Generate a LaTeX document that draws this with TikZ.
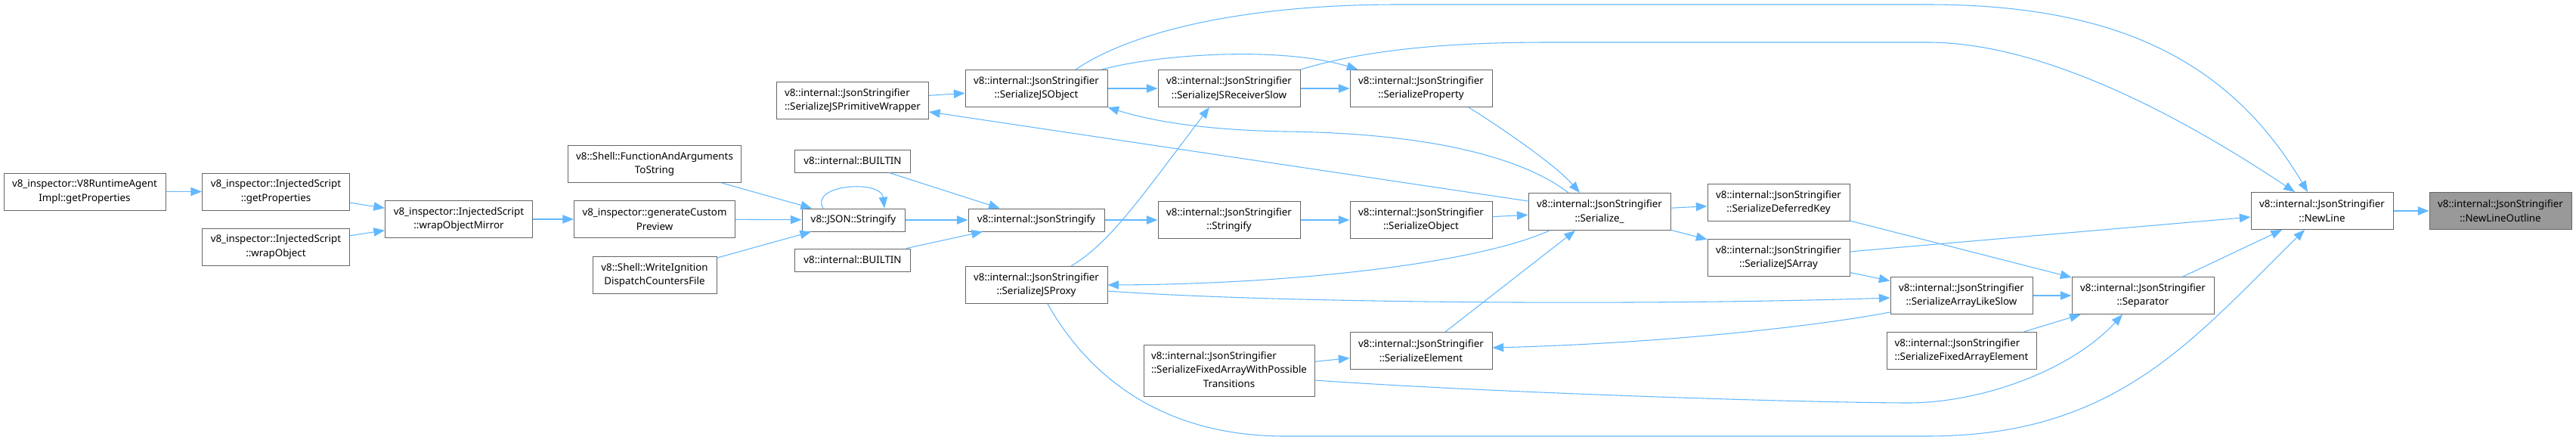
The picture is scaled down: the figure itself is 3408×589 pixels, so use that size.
\documentclass[tikz,border=0pt]{standalone}
\usepackage{fontspec}
\setmainfont{Noto Sans}
\usepackage{xcolor}
\usepackage{tikz}
\usetikzlibrary{arrows.meta,calc}

\definecolor{edgeblue}{HTML}{63B8FF}
\definecolor{boxline}{HTML}{666666}
\definecolor{curfill}{HTML}{999999}

\begin{document}
\begin{tikzpicture}[x=0.75pt, y=-0.75pt,
  fnbox/.style={draw=boxline, fill=white, line width=0.75pt, align=center,
    font=\fontsize{10}{14}\selectfont, inner xsep=2pt, inner ysep=0pt,
    minimum width=141pt, minimum height=36.75pt},
  onebox/.style={fnbox, minimum height=22.5pt},
  threebox/.style={fnbox, minimum height=51pt},
  curbox/.style={fnbox, fill=curfill},
  call/.style={draw=edgeblue, line width=0.8pt, -{Triangle[length=11pt,width=8.5pt]}}
]
\useasboundingbox (0,0) rectangle (3408,589);

% inspector side
\node[fnbox, minimum width=160.5pt]  (rtagent)      at (112,253.5) {v8\_inspector::V8RuntimeAgent\\Impl::getProperties};
\node[fnbox, minimum width=146.25pt] (isgetprops)   at (365,253.5) {v8\_inspector::InjectedScript\\::getProperties};
\node[fnbox, minimum width=146.25pt] (iswrap)       at (365,326.5) {v8\_inspector::InjectedScript\\::wrapObject};
\node[fnbox, minimum width=146.25pt] (iswrapmirror) at (607,290)   {v8\_inspector::InjectedScript\\::wrapObjectMirror};
\node[fnbox, minimum width=171.75pt] (funcargs)     at (866,217)   {v8::Shell::FunctionAndArguments\\ToString};
\node[fnbox, minimum width=159.75pt] (custompreview) at (866,290)  {v8\_inspector::generateCustom\\Preview};
\node[fnbox, minimum width=123pt]    (writeign)     at (866,364)   {v8::Shell::WriteIgnition\\DispatchCountersFile};

% JSON entry points
\node[onebox, minimum width=102pt]    (jsonstr)       at (1129,291) {v8::JSON::Stringify};
\node[onebox, minimum width=114.75pt] (builtina)      at (1128,213) {v8::internal::BUILTIN};
\node[onebox, minimum width=114.75pt] (builtinb)      at (1128,344) {v8::internal::BUILTIN};
\node[fnbox, minimum width=150.75pt, align=left] (primwrap) at (1128,133) {v8::internal::JsonStringifier\\::SerializeJSPrimitiveWrapper};
\node[fnbox]                          (jsobject)      at (1371,117) {v8::internal::JsonStringifier\\::SerializeJSObject};
\node[onebox, minimum width=135pt]    (jsonstringify) at (1371,291) {v8::internal::JsonStringify};
\node[fnbox]                          (jsproxy)       at (1371,377) {v8::internal::JsonStringifier\\::SerializeJSProxy};

% JsonStringifier members
\node[fnbox]                          (receiverslow) at (1626,117) {v8::internal::JsonStringifier\\::SerializeJSReceiverSlow};
\node[fnbox]                          (stringify)    at (1626,291) {v8::internal::JsonStringifier\\::Stringify};
\node[threebox, minimum width=169.5pt] (fixedtrans)  at (1626,490)
  {\begin{tabular}{@{}l@{}}v8::internal::JsonStringifier\\::SerializeFixedArrayWithPossible\\\multicolumn{1}{@{}c@{}}{Transitions}\end{tabular}};
\node[fnbox]                          (property)     at (1880,117) {v8::internal::JsonStringifier\\::SerializeProperty};
\node[fnbox]                          (object)       at (1880,291) {v8::internal::JsonStringifier\\::SerializeObject};
\node[fnbox]                          (element)      at (1880,464) {v8::internal::JsonStringifier\\::SerializeElement};
\node[fnbox]                          (serialize)    at (2116,280) {v8::internal::JsonStringifier\\::Serialize\_};
\node[fnbox]                          (deferred)     at (2353,268) {v8::internal::JsonStringifier\\::SerializeDeferredKey};
\node[fnbox]                          (jsarray)      at (2353,341) {v8::internal::JsonStringifier\\::SerializeJSArray};
\node[fnbox]                          (arraylike)    at (2595,391) {v8::internal::JsonStringifier\\::SerializeArrayLikeSlow};
\node[fnbox, minimum width=148.5pt, align=left] (fixedelem) at (2595,464) {v8::internal::JsonStringifier\\::SerializeFixedArrayElement};
\node[fnbox]                          (separator)    at (2835,391) {v8::internal::JsonStringifier\\::Separator};
\node[fnbox]                          (newline)      at (3072,279) {v8::internal::JsonStringifier\\::NewLine};
\node[curbox]                         (outline)      at (3308,279) {v8::internal::JsonStringifier\\::NewLineOutline};

% calls
\draw[call] (rtagent) -- (isgetprops);
\draw[call] (isgetprops) -- (iswrapmirror);
\draw[call] (iswrap) -- (iswrapmirror);
\draw[call] (iswrapmirror) -- (custompreview);
\draw[call] (custompreview) -- (jsonstr);
\draw[call] (funcargs) -- (jsonstr);
\draw[call] (writeign) -- (jsonstr);
\draw[call] ($(jsonstr.north)+(-40,0)$) .. controls +(-18,-32) and +(-4,-38) .. ($(jsonstr.north)+(41,0)$);
\draw[call] (jsonstr) -- (jsonstringify);
\draw[call] (builtina) -- (jsonstringify);
\draw[call] (builtinb) -- (jsonstringify);
\draw[call] (jsonstringify) -- (stringify);
\draw[call] (stringify) -- (object);
\draw[call] (object) -- (serialize);
\draw[call] (serialize) -- (deferred);
\draw[call] (serialize) -- (jsarray);
\draw[call] ($(serialize.north)+(-41,0)$) .. controls (2010,205) and (1880,176) .. (1700,174)
  .. controls (1600,172) and (1530,162) .. (jsobject.south east);
\draw[call] (serialize) -- (primwrap);
\draw[call] ($(serialize.south)+(-66,0)$) .. controls (1950,350) and (1700,376) .. (jsproxy.east);
\draw[call] (primwrap) -- (jsobject);
\draw[call] (jsobject) -- (receiverslow);
\draw[call] (receiverslow) -- (property);
\draw[call] ($(jsobject.north east)+(-8,0)$) .. controls (1540,70) and (1700,62) .. ($(property.north west)+(11,0)$);
\draw[call] ($(property.south)+(63,0)$) .. controls (1975,162) and (2055,215) .. ($(serialize.north)+(-26,0)$);
\draw[call] ($(jsproxy.north)+(46,0)$) .. controls (1470,320) and (1510,260) .. ($(receiverslow.south)+(-26,0)$);
\draw[call] (element) -- (serialize);
\draw[call] (fixedtrans) -- (element);
\draw[call] (jsarray) -- (arraylike);
\draw[call] (jsarray) -- (newline);
\draw[call] (deferred) -- (separator);
\draw[call] (arraylike) -- (separator);
\draw[call] (fixedelem) -- (separator);
\draw[call] (separator) -- (newline);
\draw[call] ($(arraylike.west)+(0,22)$) .. controls (2400,432) and (2200,454) .. ($(element.east)+(0,-4)$);
\draw[call] ($(jsproxy.east)+(0,8)$) .. controls (1700,402) and (2200,404) .. ($(arraylike.west)+(0,3)$);
\draw[call] ($(fixedtrans.east)+(0,13)$) .. controls (1950,518) and (2350,532) .. (2520,533)
  .. controls (2620,534) and (2740,490) .. ($(separator.south)+(-27,0)$);
\draw[call] ($(jsproxy.south)+(15,0)$) .. controls (1430,480) and (1520,577) .. (1700,577)
  -- (2550,577) .. controls (2800,577) and (2900,450) .. ($(newline.south)+(-23,0)$);
\draw[call] ($(jsobject.north)+(52,0)$) .. controls (1500,40) and (1650,6) .. (1850,6)
  -- (2550,6) .. controls (2800,6) and (2950,80) .. ($(newline.north)+(-19,0)$);
\draw[call] (receiverslow.north east) .. controls (1800,68) and (1900,56) .. (2050,56)
  -- (2550,56) .. controls (2700,56) and (2880,150) .. ($(newline.north)+(-36,0)$);
\draw[call] (newline) -- (outline);
\end{tikzpicture}
\end{document}
